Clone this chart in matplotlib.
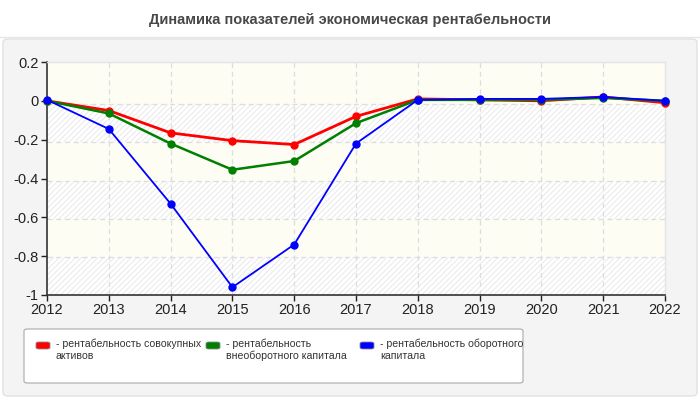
import matplotlib
matplotlib.use("Agg")
import matplotlib.pyplot as plt
from matplotlib.patches import FancyBboxPatch
from matplotlib.lines import Line2D

# Data
years = [2012, 2013, 2014, 2015, 2016, 2017, 2018, 2019, 2020, 2021, 2022]
assets = [0.0, -0.05, -0.165, -0.205, -0.225, -0.08, 0.01, 0.005, 0.0, 0.02, -0.01]
noncurrent = [0.0, -0.065, -0.22, -0.355, -0.31, -0.115, 0.005, 0.005, 0.005, 0.015, 0.0]
working = [0.005, -0.145, -0.53, -0.96, -0.74, -0.22, 0.005, 0.01, 0.01, 0.02, 0.0]

labels = ["- рентабельность совокупных\nактивов",
          "- рентабельность\nвнеоборотного капитала",
          "- рентабельность оборотного\nкапитала"]
colors = ["#ff0000", "#008000", "#0000ff"]
yticks = [0.2, 0, -0.2, -0.4, -0.6, -0.8, -1]
ytick_labels = ["0.2", "0", "-0.2", "-0.4", "-0.6", "-0.8", "-1"]

plt.rcParams["font.family"] = ["Liberation Sans", "DejaVu Sans"]
plt.rcParams["hatch.linewidth"] = 0.7
plt.rcParams["hatch.color"] = "#e9e9e9"

W, H = 700, 400
fig = plt.figure(figsize=(7, 4), dpi=100)
fig.patch.set_facecolor("white")

def fx(px):
    return px / W

def fy(py):
    return 1 - py / H

# grey panel behind chart and legend
panel = FancyBboxPatch((fx(3), fy(396)), fx(694), (396 - 39) / H,
                       boxstyle="round,pad=0,rounding_size=0.008",
                       transform=fig.transFigure, facecolor="#f4f4f4",
                       edgecolor="#e2e2e2", linewidth=1, zorder=-10)
fig.patches.append(panel)
fig.add_artist(Line2D([0, 1], [fy(37), fy(37)], transform=fig.transFigure,
                      color="#e6e6e6", linewidth=1, zorder=-10))

fig.text(0.5, fy(20), "Динамика показателей экономическая рентабельности",
         ha="center", va="center", fontsize=10.5, fontweight="bold", color="#484848")

ax = fig.add_axes([fx(47), fy(295), fx(665 - 47), (295 - 62) / H])
ax.set_facecolor("#fdfdf4")
ax.set_xlim(2012, 2022)
ax.set_ylim(-1, 0.2)

# grid of the reference is drawn on a slightly tighter step than its ticks
grid_step = 0.2 * 38 / 38.7
grid_y = [-1 + k * grid_step for k in range(1, 6)]
bands = [-1] + grid_y + [0.2]
for k in range(0, len(bands) - 1, 2):
    ax.axhspan(bands[k], bands[k + 1], facecolor="white", edgecolor="#e9e9e9",
               hatch="//////", linewidth=0, zorder=0)
for gy in grid_y:
    ax.axhline(gy, color="#dddddd", linewidth=0.9, linestyle=(0, (4, 3)), zorder=1)
for x in years[1:-1]:
    ax.axvline(x, color="#dddddd", linewidth=0.9, linestyle=(0, (4, 3)), zorder=1)

series = [assets, noncurrent, working]
widths = [2.0, 1.8, 1.3]
for vals, c, lw in zip(series, colors, widths):
    ax.plot(years, vals, color=c, linewidth=lw, marker="o", markersize=5,
            zorder=3, clip_on=False)

ax.set_xticks(years)
ax.set_xticklabels([str(y) for y in years])
ax.set_yticks(yticks)
ax.set_yticklabels(ytick_labels)
ax.tick_params(labelsize=10.5, colors="#222222", length=4, width=1, pad=2)
for s in ["top", "right"]:
    ax.spines[s].set_color("#e4e4e4")
    ax.spines[s].set_linewidth(1)
for s in ["left", "bottom"]:
    ax.spines[s].set_color("#333333")
    ax.spines[s].set_linewidth(1.2)

# legend box
leg = FancyBboxPatch((fx(24), fy(383)), fx(499), (383 - 329) / H,
                     boxstyle="round,pad=0,rounding_size=0.005",
                     transform=fig.transFigure, facecolor="white",
                     edgecolor="#aaaaaa", linewidth=0.8, zorder=-5)
fig.patches.append(leg)
xs = [36, 206, 360]
for x0, c, lab in zip(xs, colors, labels):
    sw = FancyBboxPatch((fx(x0), fy(349)), fx(14), 7 / H,
                        boxstyle="round,pad=0,rounding_size=0.004",
                        transform=fig.transFigure, facecolor=c,
                        edgecolor="#888888", linewidth=0.6)
    fig.patches.append(sw)
    fig.text(fx(x0 + 20), fy(339), lab, ha="left", va="top",
             fontsize=7.6, family="Liberation Sans", color="#333333",
             linespacing=1.15)

fig.savefig("out.png", dpi=100)
